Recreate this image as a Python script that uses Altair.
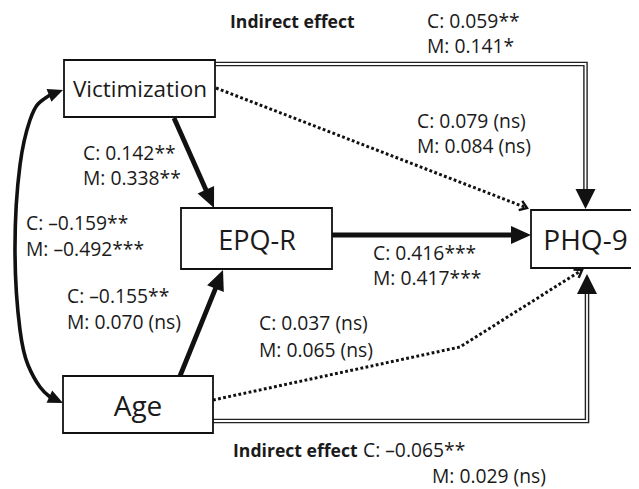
import math
import altair as alt
import pandas as pd

# ---------------- content ----------------
node_names = ["Victimization", "EPQ-R", "PHQ-9", "Age"]

label_texts = [
    "Indirect effect", "C: 0.059**", "M: 0.141*",
    "C: 0.079 (ns)", "M: 0.084 (ns)",
    "C: 0.142**", "M: 0.338**",
    "C: –0.159**", "M: –0.492***",
    "C: –0.155**", "M: 0.070 (ns)",
    "C: 0.037 (ns)", "M: 0.065 (ns)",
    "C: 0.416***", "M: 0.417***",
    "Indirect effect", "C: –0.065**", "M: 0.029 (ns)",
]
label_bold = [True, False, False, False, False, False, False, False, False,
              False, False, False, False, False, False, True, False, False]

# ---------------- layout (page pixels) ----------------
node_x0 = [64, 181, 531, 63]
node_x1 = [215, 332, 645, 213]
node_y0 = [60, 208, 210, 376]
node_y1 = [117, 269, 268, 433]
node_tx = [140, 257, 585.5, 138]
node_ty = [97, 250, 250, 416]
node_fs = [22.5, 27, 28, 28]

label_x = [230, 427, 427, 417, 417, 83, 83, 26, 26, 67, 67, 259, 259, 373, 373, 233, 363, 432]
label_y = [28, 27.5, 52.5, 128, 153, 160, 185, 230, 256, 303, 329, 330, 357, 259.5, 284.5, 457, 457, 483]

# paths: list of points, last point = arrow tip
solid_paths = {
    "vic_epq": [(174, 118), (214, 208)],
    "age_epq": [(180, 376), (223, 270)],
    "epq_phq": [(332, 235), (531, 235)],
}
curve_path = [(63, 90), (50, 95), (38, 104), (30, 120), (20, 165), (15, 253),
              (20, 330), (28, 365), (40, 387), (50, 397), (63, 403)]
dotted_paths = {
    "vic_phq": [(216, 88), (527, 208)],
    "age_phq": [(213, 400), (460, 347), (582, 270)],
}
double_paths = {
    "top": [(215, 64), (585.5, 64), (585.5, 209)],
    "bottom": [(213, 421), (587, 421), (587, 274)],
}

FONT = "Open Sans"
W, H = 623, 481


def angle_of(p_from, p_to):
    dx = p_to[0] - p_from[0]
    dy = p_to[1] - p_from[1]
    return math.degrees(math.atan2(dx, -dy)) % 360


def back_off(path, dist):
    (x0, y0), (x1, y1) = path[-2], path[-1]
    L = math.hypot(x1 - x0, y1 - y0)
    return path[:-1] + [(x1 - (x1 - x0) / L * dist, y1 - (y1 - y0) / L * dist)]


def line_df(paths, cut):
    rows = []
    for pid, pts in paths.items():
        for i, (x, y) in enumerate(back_off(pts, cut)):
            rows.append({"id": pid, "i": i, "x": x, "y": y})
    return pd.DataFrame(rows)


def head_df(paths):
    rows = []
    for pid, pts in paths.items():
        rows.append({"id": pid, "x": pts[-1][0], "y": pts[-1][1],
                     "ang": angle_of(pts[-2], pts[-1])})
    return pd.DataFrame(rows)


XS = alt.Scale(domain=[8, 8 + W], nice=False, zero=False)
YS = alt.Scale(domain=[8, 8 + H], nice=False, zero=False, reverse=True)
X = alt.X("x:Q", scale=XS, axis=None)
Y = alt.Y("y:Q", scale=YS, axis=None)
ANG = alt.Angle("ang:Q", scale=None)

nodes = pd.DataFrame({"name": node_names, "x": node_x0, "x2": node_x1,
                      "y": node_y0, "y2": node_y1, "tx": node_tx, "ty": node_ty, "fs": node_fs})
labels = pd.DataFrame({"text": label_texts, "x": label_x, "y": label_y, "bold": label_bold})

# solid thick arrows
solid_lines = alt.Chart(line_df(solid_paths, 12)).mark_line(
    color="#111", strokeWidth=4.8, strokeCap="butt").encode(
    x=X, y=Y, detail="id:N", order=alt.Order("i:Q"))
solid_heads = alt.Chart(head_df(solid_paths)).mark_point(
    shape="M0,0L-0.45,1L0.45,1Z", filled=True, size=1600, color="#111", opacity=1).encode(
    x=X, y=Y, angle=ANG)

# curved double-headed arrow
curve_df = pd.DataFrame([{"i": i, "x": x, "y": y} for i, (x, y) in enumerate(curve_path[1:-1])])
curve_line = alt.Chart(curve_df).mark_line(
    color="#111", strokeWidth=3.6, interpolate="natural").encode(
    x=X, y=Y, order=alt.Order("i:Q"))
curve_heads_df = pd.DataFrame([
    {"x": curve_path[0][0], "y": curve_path[0][1], "ang": angle_of(curve_path[1], curve_path[0])},
    {"x": curve_path[-1][0], "y": curve_path[-1][1], "ang": angle_of(curve_path[-2], curve_path[-1])},
])
curve_heads = alt.Chart(curve_heads_df).mark_point(
    shape="M0,0L-0.45,1L0.45,1Z", filled=True, size=900, color="#111", opacity=1).encode(
    x=X, y=Y, angle=ANG)

# dotted arrows
dotted_lines = alt.Chart(line_df(dotted_paths, 1)).mark_line(
    color="#111", strokeWidth=3, strokeDash=[2.8, 2.4], strokeCap="butt").encode(
    x=X, y=Y, detail="id:N", order=alt.Order("i:Q"))
dotted_heads = alt.Chart(head_df(dotted_paths)).mark_point(
    shape="M-0.7,1L0,0L0.7,1", filled=False, size=196, color="#111",
    strokeWidth=2.4, opacity=1).encode(x=X, y=Y, angle=ANG)

# double-line arrows
double_outer = alt.Chart(line_df(double_paths, 15)).mark_line(
    color="#222", strokeWidth=4.6, strokeJoin="miter", strokeCap="butt").encode(
    x=X, y=Y, detail="id:N", order=alt.Order("i:Q"))
double_inner = alt.Chart(line_df(double_paths, 15)).mark_line(
    color="white", strokeWidth=1.8, strokeJoin="miter", strokeCap="butt").encode(
    x=X, y=Y, detail="id:N", order=alt.Order("i:Q"))
double_heads = alt.Chart(head_df(double_paths)).mark_point(
    shape="M0,0L-0.5,1L0.5,1Z", filled=True, size=1600, color="#111", opacity=1).encode(
    x=X, y=Y, angle=ANG)

# boxes and node text
boxes = alt.Chart(nodes).mark_rect(
    fill="white", stroke="#111", strokeWidth=1.8, clip=True).encode(
    x=X, x2="x2:Q", y=Y, y2="y2:Q")
node_text = alt.Chart(nodes).mark_text(
    font=FONT, align="center", baseline="alphabetic", color="#1a1a1a").encode(
    x=alt.X("tx:Q", scale=XS, axis=None),
    y=alt.Y("ty:Q", scale=YS, axis=None),
    text="name:N", size=alt.Size("fs:Q", scale=None))

label_plain = alt.Chart(labels).transform_filter("!datum.bold").mark_text(
    font=FONT, fontSize=19.3, align="left", baseline="alphabetic", color="#1a1a1a").encode(
    x=X, y=Y, text="text:N")
label_bold_l = alt.Chart(labels).transform_filter("datum.bold").mark_text(
    font=FONT, fontSize=17.6, fontWeight="bold", align="left", baseline="alphabetic",
    color="#1a1a1a").encode(x=X, y=Y, text="text:N")

chart = alt.layer(
    double_outer, double_inner, double_heads,
    dotted_lines, dotted_heads,
    solid_lines, solid_heads,
    curve_line, curve_heads,
    boxes, node_text, label_plain, label_bold_l,
).properties(width=W, height=H, padding=0, autosize=alt.AutoSizeParams(type="none")
).configure_view(strokeWidth=0)

chart.save("out.html", embed_options={"renderer": "svg", "actions": False})
